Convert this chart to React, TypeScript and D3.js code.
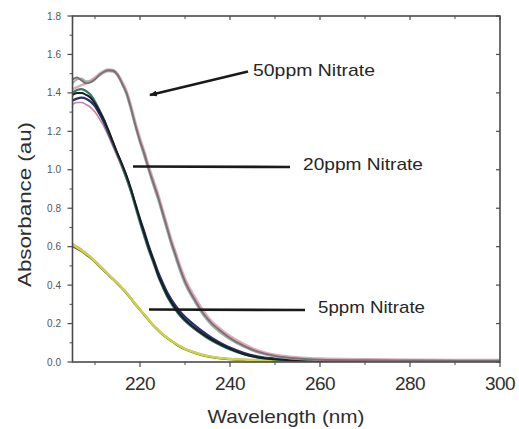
import React from "react";
import * as d3 from "d3";

const wavelengths = [205,206,207,208,209,210,211,212,213,214,215,216,217,218,219,220,221,222,223,224,225,226,227,228,229,230,232,234,236,238,240,243,246,250,255,260,270,280,290,300];

const ppm50Grey = [1.47,1.48,1.465,1.45,1.455,1.47,1.495,1.51,1.518,1.515,1.495,1.45,1.40,1.32,1.23,1.15,1.08,1.00,0.93,0.86,0.78,0.70,0.62,0.55,0.48,0.42,0.33,0.255,0.20,0.16,0.125,0.085,0.055,0.032,0.018,0.012,0.009,0.008,0.007,0.007];
const ppm50Pink = [1.42,1.43,1.44,1.45,1.465,1.48,1.50,1.515,1.522,1.52,1.50,1.46,1.41,1.335,1.245,1.165,1.095,1.015,0.945,0.875,0.795,0.715,0.635,0.565,0.495,0.435,0.345,0.27,0.21,0.17,0.135,0.095,0.062,0.038,0.024,0.018,0.014,0.012,0.011,0.011];
const ppm50Light = [1.45,1.47,1.475,1.46,1.46,1.475,1.49,1.505,1.512,1.51,1.49,1.445,1.39,1.31,1.22,1.14,1.065,0.99,0.915,0.845,0.765,0.685,0.605,0.535,0.465,0.405,0.32,0.245,0.19,0.15,0.118,0.08,0.05,0.028,0.015,0.01,0.007,0.006,0.005,0.005];

const ppm20Black = [1.39,1.40,1.40,1.39,1.375,1.345,1.305,1.26,1.205,1.145,1.085,1.03,0.97,0.90,0.82,0.74,0.665,0.59,0.525,0.455,0.40,0.35,0.31,0.275,0.245,0.22,0.18,0.145,0.115,0.09,0.068,0.042,0.025,0.014,0.009,0.007,0.006,0.006,0.005,0.005];
const ppm20Navy = [1.36,1.37,1.375,1.37,1.355,1.33,1.29,1.245,1.19,1.135,1.08,1.025,0.965,0.895,0.82,0.745,0.675,0.60,0.535,0.47,0.415,0.365,0.325,0.29,0.26,0.235,0.195,0.158,0.125,0.098,0.075,0.048,0.03,0.018,0.012,0.01,0.008,0.008,0.007,0.007];
const ppm20Teal = [1.40,1.415,1.42,1.41,1.39,1.355,1.31,1.26,1.20,1.14,1.08,1.02,0.955,0.885,0.805,0.725,0.65,0.578,0.515,0.448,0.392,0.342,0.302,0.268,0.238,0.213,0.173,0.14,0.11,0.086,0.065,0.04,0.024,0.013,0.008,0.006,0.005,0.005,0.005,0.005];
const ppm20Rose = [1.34,1.35,1.35,1.34,1.325,1.30,1.265,1.225,1.175,1.12,1.065,1.01,0.95,0.885,0.81,0.735,0.665,0.595,0.53,0.465,0.41,0.36,0.32,0.285,0.255,0.23,0.19,0.153,0.121,0.095,0.072,0.046,0.028,0.016,0.011,0.009,0.008,0.008,0.008,0.008];

const ppm5Orange = [0.615,0.60,0.585,0.566,0.548,0.526,0.503,0.48,0.457,0.434,0.412,0.387,0.362,0.332,0.302,0.274,0.247,0.219,0.192,0.169,0.147,0.129,0.112,0.096,0.082,0.07,0.052,0.038,0.028,0.021,0.017,0.013,0.011,0.009,0.008,0.007,0.006,0.006,0.006,0.006];
const ppm5Dark = [0.60,0.59,0.576,0.558,0.541,0.52,0.497,0.475,0.452,0.43,0.407,0.383,0.357,0.328,0.298,0.27,0.243,0.215,0.188,0.165,0.143,0.125,0.108,0.092,0.078,0.066,0.048,0.034,0.025,0.018,0.014,0.01,0.008,0.006,0.005,0.005,0.004,0.004,0.004,0.004];
const ppm5Yellow = [0.61,0.595,0.58,0.562,0.545,0.523,0.50,0.478,0.455,0.432,0.41,0.385,0.36,0.33,0.30,0.272,0.245,0.217,0.19,0.167,0.145,0.127,0.11,0.094,0.08,0.068,0.05,0.036,0.027,0.02,0.016,0.012,0.01,0.008,0.007,0.006,0.005,0.005,0.005,0.005];

const seriesList = [
  { name: "5ppm orange", values: ppm5Orange, color: "#e39a62", width: 2 },
  { name: "5ppm dark", values: ppm5Dark, color: "#4a4a4a", width: 2 },
  { name: "5ppm yellow", values: ppm5Yellow, color: "#cbd844", width: 2.2 },
  { name: "20ppm rose", values: ppm20Rose, color: "#c9849a", width: 1.6 },
  { name: "20ppm navy", values: ppm20Navy, color: "#27306e", width: 2.2 },
  { name: "20ppm teal", values: ppm20Teal, color: "#2f7a6a", width: 2.2 },
  { name: "20ppm black", values: ppm20Black, color: "#1c1c1c", width: 2 },
  { name: "50ppm pink", values: ppm50Pink, color: "#e6a7b8", width: 2.4 },
  { name: "50ppm light", values: ppm50Light, color: "#a6aca6", width: 2 },
  { name: "50ppm grey", values: ppm50Grey, color: "#747474", width: 1.9 },
];

const xMajorTicks = [220, 240, 260, 280, 300];
const xMinorTicks = [210, 230, 250, 270, 290];
const yMajorTicks = [0, 0.2, 0.4, 0.6, 0.8, 1.0, 1.2, 1.4, 1.6, 1.8];
const yMinorTicks = [0.1, 0.3, 0.5, 0.7, 0.9, 1.1, 1.3, 1.5, 1.7];

const annotations = [
  { label: "50ppm Nitrate", tx: 253, ty: 76, tlen: 122, x1: 150, y1: 95, x2: 248, y2: 71.5, arrow: true },
  { label: "20ppm Nitrate", tx: 303, ty: 170, tlen: 120, x1: 133, y1: 166.5, x2: 290, y2: 167, arrow: false },
  { label: "5ppm Nitrate", tx: 318, ty: 313, tlen: 107, x1: 149, y1: 309.5, x2: 305, y2: 310, arrow: false },
];

const W = 519;
const H = 429;
const M = { left: 72.5, right: 500, top: 16, bottom: 362 };

export default function App() {
  const x = d3.scaleLinear().domain([205, 300]).range([M.left, M.right]);
  const y = d3.scaleLinear().domain([0, 1.8]).range([M.bottom, M.top]);
  const line = d3
    .line<number>()
    .x((_, i) => x(wavelengths[i]))
    .y((d) => y(d))
    .curve(d3.curveMonotoneX);

  const font = "Arial, 'Liberation Sans', Helvetica, sans-serif";
  const axisColor = "#4a4a4a";

  return (
    <svg
      width={W}
      height={H}
      viewBox={`0 0 ${W} ${H}`}
      style={{ position: "absolute", left: 0, top: 0, background: "#fff", display: "block" }}
      fontFamily={font}
    >
      <rect x={0} y={0} width={W} height={H} fill="#fff" />
      <defs>
        <clipPath id="plotclip">
          <rect x={M.left} y={M.top} width={M.right - M.left} height={M.bottom - M.top} />
        </clipPath>
        <marker id="arrowhead" markerWidth="8" markerHeight="6" refX="1" refY="3" orient="auto" markerUnits="userSpaceOnUse">
          <path d="M8,0 L0,3 L8,6 Z" fill="#1a1a1a" />
        </marker>
      </defs>

      <g clipPath="url(#plotclip)">
        {seriesList.map((s) => (
          <path
            key={s.name}
            d={line(s.values) || ""}
            fill="none"
            stroke={s.color}
            strokeWidth={s.width}
            strokeLinejoin="round"
            strokeLinecap="round"
          />
        ))}
      </g>

      <rect
        x={M.left}
        y={M.top}
        width={M.right - M.left}
        height={M.bottom - M.top}
        fill="none"
        stroke={axisColor}
        strokeWidth={1.6}
      />

      {yMajorTicks.map((t) => (
        <g key={"ym" + t}>
          <line x1={M.left - 5} x2={M.left} y1={y(t)} y2={y(t)} stroke={axisColor} strokeWidth={1.2} />
          <line x1={M.right - 4} x2={M.right} y1={y(t)} y2={y(t)} stroke={axisColor} strokeWidth={1.2} />
          <text x={61} y={y(t) + 3.5} fontSize={10} fill="#555" textAnchor="end">
            {t.toFixed(1)}
          </text>
        </g>
      ))}
      {yMinorTicks.map((t) => (
        <line key={"yn" + t} x1={M.left - 3} x2={M.left} y1={y(t)} y2={y(t)} stroke={axisColor} strokeWidth={1} />
      ))}

      {xMajorTicks.map((t) => (
        <g key={"xm" + t}>
          <line x1={x(t)} x2={x(t)} y1={M.bottom} y2={M.bottom + 5} stroke={axisColor} strokeWidth={1.2} />
          <line x1={x(t)} x2={x(t)} y1={M.top} y2={M.top + 4} stroke={axisColor} strokeWidth={1.2} />
          <text x={x(t)} y={390} fontSize={19} fill="#2e2e2e" textAnchor="middle" letterSpacing={-0.5}>
            {t}
          </text>
        </g>
      ))}
      {xMinorTicks.map((t) => (
        <g key={"xn" + t}>
          <line x1={x(t)} x2={x(t)} y1={M.bottom} y2={M.bottom + 3} stroke={axisColor} strokeWidth={1} />
          <line x1={x(t)} x2={x(t)} y1={M.top} y2={M.top + 3} stroke={axisColor} strokeWidth={1} />
        </g>
      ))}

      <text
        x={286}
        y={423}
        fontSize={19}
        fill="#2e2e2e"
        textAnchor="middle"
        textLength={157}
        lengthAdjust="spacingAndGlyphs"
      >
        Wavelength (nm)
      </text>
      <text
        transform="translate(31,204.5) rotate(-90)"
        fontSize={19}
        fill="#2e2e2e"
        textAnchor="middle"
        textLength={165}
        lengthAdjust="spacingAndGlyphs"
      >
        Absorbance (au)
      </text>

      {annotations.map((a) => (
        <g key={a.label}>
          <line
            x1={a.x1}
            y1={a.y1}
            x2={a.x2}
            y2={a.y2}
            stroke="#1a1a1a"
            strokeWidth={2.6}
            markerStart={a.arrow ? "url(#arrowhead)" : undefined}
          />
          <text
            x={a.tx}
            y={a.ty}
            fontSize={17}
            fill="#262626"
            textLength={a.tlen}
            lengthAdjust="spacingAndGlyphs"
          >
            {a.label}
          </text>
        </g>
      ))}
    </svg>
  );
}
